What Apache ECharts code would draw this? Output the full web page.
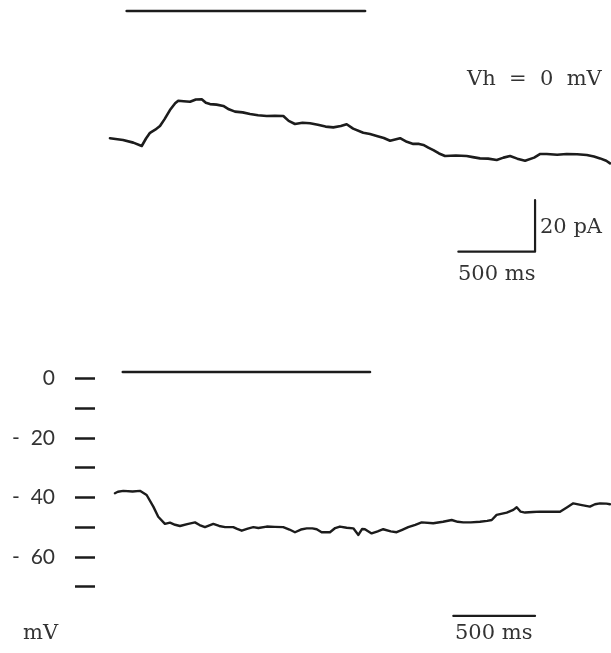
<!DOCTYPE html>
<html>
<head>
<meta charset="utf-8">
<script src="https://cdn.jsdelivr.net/npm/echarts@6/dist/echarts.min.js"></script>
<style>
  html, body { margin: 0; padding: 0; background: #fff; }
  #chart { width: 611px; height: 653px; }
</style>
</head>
<body>
<div id="chart"></div>
<script>
// Holding current recorded at Vh = 0 mV: [time (ms), current (pA)]
const currentTrace = [
  [65, 0.3], [150, -0.4], [217, -1.4], [272, -2.7], [300, 0.2], [326, 2.4], [360, 3.6],
  [391, 5.0], [420, 7.6], [456, 11.2], [490, 13.8], [510, 14.8], [545, 14.6], [587, 14.4],
  [625, 15.3], [663, 15.4], [690, 14.0], [717, 13.5], [760, 13.3], [804, 12.8], [840, 11.5],
  [880, 10.6], [930, 10.3], [978, 9.7], [1030, 9.2], [1087, 8.9], [1140, 9.0], [1195, 8.9],
  [1230, 7.0], [1271, 5.8], [1320, 6.3], [1369, 6.1], [1420, 5.5], [1470, 4.8], [1521, 4.5],
  [1570, 5.0], [1608, 5.7], [1650, 4.0], [1716, 2.4], [1760, 1.9], [1804, 1.2], [1850, 0.4],
  [1891, -0.7], [1930, -0.1], [1956, 0.3], [2000, -1.1], [2042, -1.9], [2080, -1.9],
  [2108, -2.3], [2140, -3.3], [2173, -4.3], [2210, -5.6], [2249, -6.6], [2320, -6.4],
  [2390, -6.6], [2430, -7.0], [2477, -7.5], [2530, -7.6], [2586, -8.1], [2630, -7.2],
  [2673, -6.6], [2720, -7.6], [2771, -8.4], [2830, -7.2], [2870, -5.8], [2912, -5.8],
  [2980, -6.1], [3042, -5.8], [3110, -5.9], [3173, -6.2], [3220, -6.8], [3260, -7.5],
  [3300, -8.4], [3325, -9.4]
];

// Membrane potential: [time (ms), voltage (mV)]
const voltageTrace = [
  [122, -38.6], [140, -38.1], [173, -37.8], [230, -38.0], [275, -37.8], [316, -39.2],
  [357, -43.1], [387, -46.5], [428, -48.9], [459, -48.5], [490, -49.2], [520, -49.6],
  [571, -48.9], [612, -48.4], [640, -49.3], [673, -50.0], [724, -48.9], [760, -49.6],
  [796, -50.0], [846, -50.0], [870, -50.6], [898, -51.2], [935, -50.5], [969, -50.0],
  [1000, -50.3], [1051, -49.8], [1100, -49.9], [1152, -50.0], [1190, -50.8], [1224, -51.7],
  [1260, -50.8], [1296, -50.4], [1330, -50.4], [1357, -50.7], [1387, -51.7], [1438, -51.7],
  [1470, -50.3], [1499, -49.8], [1540, -50.2], [1581, -50.4], [1612, -52.6], [1635, -50.6],
  [1652, -50.7], [1693, -52.1], [1730, -51.4], [1764, -50.7], [1810, -51.4], [1846, -51.7],
  [1880, -50.9], [1917, -50.0], [1960, -49.2], [1999, -48.4], [2070, -48.7], [2130, -48.2],
  [2183, -47.6], [2220, -48.2], [2254, -48.4], [2300, -48.4], [2356, -48.2], [2400, -47.9],
  [2428, -47.6], [2458, -45.9], [2520, -45.1], [2560, -44.2], [2581, -43.3], [2605, -44.8],
  [2632, -45.1], [2680, -44.9], [2723, -44.8], [2790, -44.8], [2846, -44.8], [2890, -43.3],
  [2927, -42.0], [2980, -42.6], [3029, -43.1], [3060, -42.3], [3091, -42.0], [3130, -42.1],
  [3152, -42.3]
];

// Stimulus bars drawn above each trace
const currentStimulus = [[174, 49.5], [1728, 49.5]];
const voltageStimulus = [[170, 2.1], [1683, 2.1]];

// Calibration bars: 500 ms / 20 pA (current), 500 ms (voltage)
const currentScaleBar = [[2336, -43.6], [2836, -43.6], [2836, -23.6]];
const voltageScaleBar = [[2193, -79.8], [2693, -79.8]];

// Voltage axis ticks
const voltageMin = -70;
const voltageMax = 0;
const voltageTickStep = 10;

const ink = '#1c1c1c';
const textFont = '"DejaVu Serif", serif';
const textStyle = { fill: '#333333', font: '21px ' + textFont, verticalAlign: 'middle' };

function traceSeries(xi, data, width) {
  return {
    type: 'line', xAxisIndex: xi, yAxisIndex: xi, data: data,
    showSymbol: false, symbol: 'none', clip: false, animation: false,
    lineStyle: { color: ink, width: width, join: 'round', cap: 'round' }
  };
}

const chart = echarts.init(document.getElementById('chart'), null, { renderer: 'canvas' });
chart.setOption({
  backgroundColor: '#ffffff',
  animation: false,
  grid: [
    { left: 100, width: 511, top: 9.75, height: 284.35 },
    { left: 95, width: 516, top: 378.3, height: 208.4 }
  ],
  xAxis: [
    { gridIndex: 0, type: 'value', min: 0, max: 3331, show: false },
    { gridIndex: 1, type: 'value', min: 0, max: 3158, show: false }
  ],
  yAxis: [
    { gridIndex: 0, type: 'value', min: -60, max: 50, show: false },
    {
      gridIndex: 1, type: 'value', min: voltageMin, max: voltageMax, interval: voltageTickStep,
      axisLine: { show: false },
      splitLine: { show: false },
      axisTick: { show: true, length: 20, lineStyle: { color: ink, width: 2.5 } },
      axisLabel: {
        margin: 40, color: '#333333', fontFamily: 'Lato, sans-serif', fontSize: 21,
        formatter: function (v) {
          if (v === 0) return '0';
          return (v % 20 === 0) ? '-  ' + Math.abs(v) : '';
        }
      }
    }
  ],
  series: [
    traceSeries(0, currentTrace, 2.6),
    traceSeries(0, currentStimulus, 2.6),
    traceSeries(0, currentScaleBar, 2.2),
    traceSeries(1, voltageTrace, 2.4),
    traceSeries(1, voltageStimulus, 2.6),
    traceSeries(1, voltageScaleBar, 2.2)
  ],
  graphic: [
    { type: 'text', left: 467, top: 69.5, style: Object.assign({ text: 'Vh  =  0  mV' }, textStyle) },
    { type: 'text', left: 540, top: 217.5, style: Object.assign({ text: '20 pA' }, textStyle) },
    { type: 'text', left: 458, top: 264, style: Object.assign({ text: '500 ms' }, textStyle) },
    { type: 'text', left: 23, top: 623.5, style: Object.assign({ text: 'mV' }, textStyle) },
    { type: 'text', left: 455, top: 623.5, style: Object.assign({ text: '500 ms' }, textStyle) }
  ]
});
</script>
</body>
</html>
